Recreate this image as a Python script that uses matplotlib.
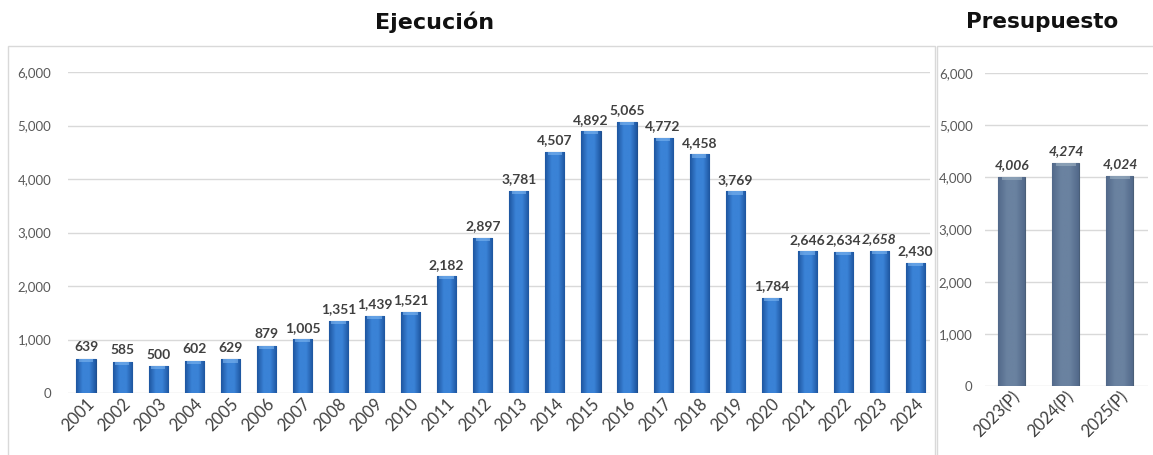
import numpy as np
import matplotlib.pyplot as plt
from matplotlib.patches import Rectangle
from matplotlib.colors import LinearSegmentedColormap
from matplotlib.ticker import FuncFormatter

years = [str(y) for y in range(2001, 2025)]
ejecucion = [639, 585, 500, 602, 629, 879, 1005, 1351, 1439, 1521, 2182, 2897,
             3781, 4507, 4892, 5065, 4772, 4458, 3769, 1784, 2646, 2634, 2658, 2430]
italic_years = ['2023']

pres_labels = ['2023(P)', '2024(P)', '2025(P)']
presupuesto = [4006, 4274, 4024]

yticks = [0, 1000, 2000, 3000, 4000, 5000, 6000]

plt.rcParams['font.family'] = ['Lato', 'DejaVu Sans']

fig = plt.figure(figsize=(11.53, 4.55), dpi=100)
W, H = 1153, 455

def px_axes(x0, y0, x1, y1):
    return fig.add_axes([x0 / W, 1 - y1 / H, (x1 - x0) / W, (y1 - y0) / H])

# panel frames (bottom runs off the picture)
fig.patches.append(Rectangle((8 / W, -0.05), (935 - 8) / W, 1.05 - 46 / H, transform=fig.transFigure,
                             fill=False, edgecolor='#d9d9d9', linewidth=1.0))
fig.patches.append(Rectangle((937 / W, -0.05), (1160 - 937) / W, 1.05 - 46 / H, transform=fig.transFigure,
                             fill=False, edgecolor='#d9d9d9', linewidth=1.0))

fmt = FuncFormatter(lambda v, p: f'{int(v):,}')


def style_axis(ax, ypad):
    ax.set_ylim(0, 6000)
    ax.set_yticks(yticks)
    ax.yaxis.set_major_formatter(fmt)
    ax.grid(axis='y', color='#d9d9d9', linewidth=1)
    ax.set_axisbelow(True)
    for s in ax.spines.values():
        s.set_visible(False)
    ax.tick_params(axis='y', length=0, labelsize=9.5, labelcolor='#595959', pad=ypad)
    ax.tick_params(axis='x', length=0, labelsize=12, labelcolor='#404040', pad=2)


def shade_bars(ax, bars, dark, light, cap):
    # horizontal gradient inside each bar plus a lighter cap on top
    cmap = LinearSegmentedColormap.from_list('g', [dark, light, light, dark])
    grad = np.linspace(0, 1, 64).reshape(1, -1)
    for b in bars:
        x0, w, h = b.get_x(), b.get_width(), b.get_height()
        im = ax.imshow(grad, cmap=cmap, aspect='auto', extent=(x0, x0 + w, 0, h),
                       zorder=b.get_zorder() + 0.1)
        im.set_clip_path(b)
        ax.add_patch(Rectangle((x0 + w * 0.12, h - 60), w * 0.76, 60, color=cap,
                               alpha=0.6, linewidth=0, zorder=b.get_zorder() + 0.2))


# Ejecución
ax1 = px_axes(68, 72, 930, 393)
x1 = list(range(len(years)))
bars1 = ax1.bar(x1, ejecucion, width=0.53, color='#2f6fbf', edgecolor='#1f4f8f', linewidth=0.8)
style_axis(ax1, 12)
shade_bars(ax1, bars1, '#1e56a0', '#3a82d6', '#7fb6f0')
ax1.set_xlim(-0.5, 23.4)
ax1.set_ylim(0, 6000)
ax1.set_xticks(x1)
ax1.set_xticklabels(years, rotation=45, ha='right', rotation_mode='anchor')
for xi, yr, v in zip(x1, years, ejecucion):
    ax1.annotate(f'{v:,}', (xi, v), xytext=(0, 4), textcoords='offset points',
                 ha='center', va='bottom', fontsize=10, fontweight='bold', color='#404040',
                 style='italic' if yr in italic_years else 'normal')

# Presupuesto
ax2 = px_axes(985, 73, 1148, 386)
x2 = list(range(len(pres_labels)))
bars2 = ax2.bar(x2, presupuesto, width=0.5, color='#5f7794', edgecolor='#4a5f78', linewidth=0.8)
style_axis(ax2, 9)
shade_bars(ax2, bars2, '#52698a', '#6a82a0', '#9fb3c4')
ax2.set_xlim(-0.5, 2.52)
ax2.set_ylim(0, 6000)
ax2.set_xticks(x2)
ax2.set_xticklabels(pres_labels, rotation=45, ha='right', rotation_mode='anchor')
for xi, v in zip(x2, presupuesto):
    ax2.annotate(f'{v:,}', (xi, v), xytext=(0, 4), textcoords='offset points',
                 ha='center', va='bottom', fontsize=10, fontweight='bold', color='#404040',
                 style='italic')

fig.text(435 / W, 1 - 22 / H, 'Ejecución', ha='center', va='center', fontsize=16,
         fontweight='bold', color='#111111', family='DejaVu Sans')
fig.text(1042 / W, 1 - 22 / H, 'Presupuesto', ha='center', va='center', fontsize=15.5,
         fontweight='bold', color='#111111', family='DejaVu Sans')

fig.savefig('out.png', dpi=100, facecolor='white')
